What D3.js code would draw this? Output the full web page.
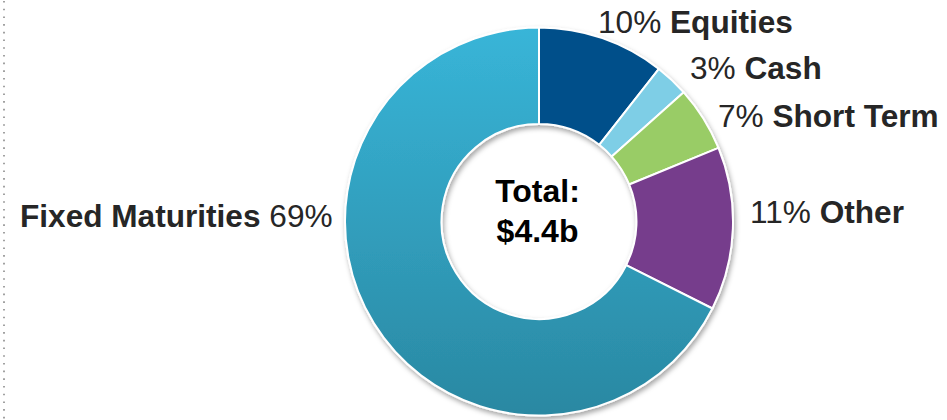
<!DOCTYPE html>
<html>
<head>
<meta charset="utf-8">
<script src="https://cdn.jsdelivr.net/npm/d3@7"></script>
<style>
  html, body { margin: 0; padding: 0; background: #fff; }
  svg { display: block; }
</style>
</head>
<body>
<svg id="chart" width="947" height="420"></svg>
<script>
// ---- data ----
const categories = ["Equities", "Cash", "Short Term", "Other", "Fixed Maturities"];
const shares = [10.6, 2.8, 5.4, 13.6, 67.6];          // slice sizes
const pctLabels = ["10%", "3%", "7%", "11%", "69%"];   // printed labels
const colors = ["#03508a", "#7ecee6", "#99cc66", "#763c8c", "url(#fmGrad)"];
const totalLabel = ["Total:", "$4.4b"];

// ---- layout ----
const W = 947, H = 420;
const cx = 539, cy = 221.5, rOuter = 194, rInner = 97.5;
const svg = d3.select("#chart");

const defs = svg.append("defs");
// gradient in the ring group's local coordinates (centered at 0,0)
const grad = defs.append("linearGradient")
  .attr("id", "fmGrad").attr("gradientUnits", "userSpaceOnUse")
  .attr("x1", 0).attr("y1", -rOuter).attr("x2", 0).attr("y2", rOuter);
grad.append("stop").attr("offset", "0%").attr("stop-color", "#38b5d8");
grad.append("stop").attr("offset", "100%").attr("stop-color", "#2a88a2");

const shadow = defs.append("filter").attr("id", "shadow")
  .attr("x", "-10%").attr("y", "-10%").attr("width", "125%").attr("height", "125%");
shadow.append("feDropShadow")
  .attr("dx", 1.5).attr("dy", 3).attr("stdDeviation", 2.5)
  .attr("flood-color", "#000").attr("flood-opacity", 0.35);

// dotted vertical line at left
svg.append("line")
  .attr("x1", 4).attr("x2", 4).attr("y1", 1).attr("y2", H)
  .attr("stroke", "#8a8a8a").attr("stroke-width", 1.6)
  .attr("stroke-dasharray", "1.6 6.1");

const data = categories.map((c, i) => ({ cat: c, value: shares[i], pct: pctLabels[i], color: colors[i] }));

const pie = d3.pie().sort(null).value(d => d.value).startAngle(0).endAngle(2 * Math.PI);
const arc = d3.arc().innerRadius(rInner).outerRadius(rOuter);

const g = svg.append("g").attr("transform", `translate(${cx},${cy})`);
const ring = g.append("g").attr("filter", "url(#shadow)");

ring.selectAll("path.slice")
  .data(pie(data))
  .join("path")
  .attr("class", "slice")
  .attr("d", arc)
  .attr("fill", d => d.data.color)
  .attr("stroke", "#ffffff")
  .attr("stroke-width", 2)
  .attr("stroke-linejoin", "round");

// center total
g.append("text")
  .attr("text-anchor", "middle")
  .attr("font-family", "Liberation Sans, Arial, sans-serif")
  .attr("font-weight", "bold")
  .attr("font-size", 32)
  .attr("fill", "#000")
  .selectAll("tspan")
  .data(totalLabel)
  .join("tspan")
  .attr("x", -1.5)
  .attr("y", (d, i) => (i === 0 ? 201.5 : 241.5) - cy)
  .text(d => d);

// outside labels
const labelPos = {
  "Equities":         { x: 598, y: 33,  pctFirst: true },
  "Cash":             { x: 690, y: 79,  pctFirst: true },
  "Short Term":       { x: 718, y: 127, pctFirst: true },
  "Other":            { x: 750, y: 223, pctFirst: true },
  "Fixed Maturities": { x: 20,  y: 227, pctFirst: false }
};

data.forEach(d => {
  const p = labelPos[d.cat];
  const t = svg.append("text")
    .attr("x", p.x).attr("y", p.y)
    .attr("text-anchor", "start")
    .attr("font-family", "Liberation Sans, Arial, sans-serif")
    .attr("font-size", 31.6)
    .attr("fill", "#262626");
  if (p.pctFirst) {
    t.append("tspan").text(d.pct + " ");
    t.append("tspan").attr("font-weight", "bold").text(d.cat);
  } else {
    t.append("tspan").attr("font-weight", "bold").text(d.cat);
    t.append("tspan").text(" " + d.pct);
  }
});
</script>
</body>
</html>
